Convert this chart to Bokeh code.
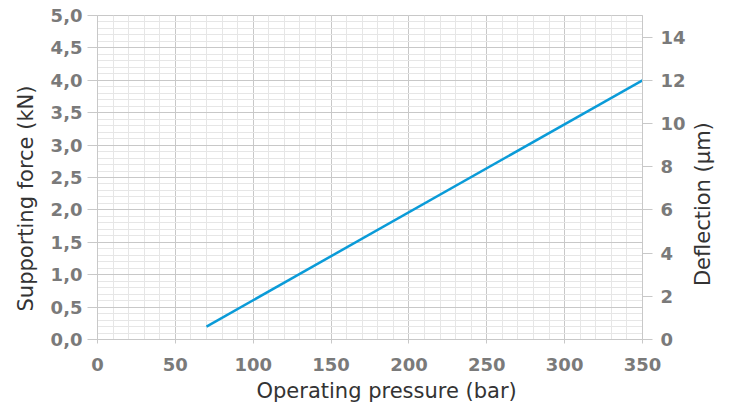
import math
from bokeh.plotting import figure
from bokeh.models import Range1d, LinearAxis, SingleIntervalTicker, CustomJSTickFormatter, Title
from bokeh.embed import file_html
from bokeh.resources import INLINE

pressure = [70, 350]
force = [0.2, 4.0]

x_ticks_interval = 50
y_ticks_interval = 0.5
right_ticks_interval = 2

x_label = "Operating pressure (bar)"
y_label = "Supporting force (kN)"
right_label = "Deflection (μm)"

TICK_FONT = "DejaVu Sans"
LABEL_FONT = "DejaVu Sans"
TICK_COLOR = "#7a7a7a"
LABEL_COLOR = "#333333"

p = figure(width=729, height=409, output_backend="svg", toolbar_location=None,
           x_range=Range1d(0, 350), y_range=Range1d(0, 5.0),
           min_border_left=97, min_border_right=87, min_border_top=15, min_border_bottom=70)
p.extra_y_ranges = {"defl": Range1d(0, 15)}

p.outline_line_color = "#c8c8c8"
p.background_fill_color = "white"
p.border_fill_color = "white"

p.xaxis.ticker = SingleIntervalTicker(interval=x_ticks_interval, num_minor_ticks=5)
p.yaxis.ticker = SingleIntervalTicker(interval=y_ticks_interval, num_minor_ticks=5)
p.yaxis.formatter = CustomJSTickFormatter(code="return tick.toFixed(1).replace('.', ',');")

p.xgrid.grid_line_color = "#c8c8c8"
p.ygrid.grid_line_color = "#c8c8c8"
p.xgrid.minor_grid_line_color = "#e6e6e6"
p.ygrid.minor_grid_line_color = "#e6e6e6"

left = p.yaxis[0]
bottom = p.xaxis[0]

# leading no-break spaces lift the bottom-anchored label up the axis
right = LinearAxis(y_range_name="defl",
                   ticker=SingleIntervalTicker(interval=right_ticks_interval),
                   axis_label="\u00a0" * 8 + right_label)
right.axis_label_orientation = math.pi / 2
right.axis_label_align = "start"
p.add_layout(right, "right")

for ax in [bottom, left, right]:
    ax.axis_line_color = "#c8c8c8"
    ax.major_tick_line_color = "#c8c8c8"
    ax.minor_tick_line_color = None
    ax.major_tick_out = 10
    ax.major_tick_in = 0
    ax.major_label_standoff = 5
    ax.major_label_text_font = TICK_FONT
    ax.major_label_text_font_style = "bold"
    ax.major_label_text_font_size = "18px"
    ax.major_label_text_color = TICK_COLOR
    ax.axis_label_text_font = LABEL_FONT
    ax.axis_label_text_font_style = "normal"
    ax.axis_label_text_font_size = "21px"
    ax.axis_label_text_color = LABEL_COLOR
    ax.axis_label_standoff = 14

right.major_label_standoff = 8
bottom.major_tick_out = 4
bottom.major_label_standoff = 14

x_title = Title(text=x_label, align="left", offset=159, standoff=6,
                text_font=LABEL_FONT, text_font_size="21px", text_font_style="normal",
                text_color=LABEL_COLOR)
p.add_layout(x_title, "below")
y_title = Title(text=y_label, align="left", offset=28, standoff=20,
                text_font=LABEL_FONT, text_font_size="21px", text_font_style="normal",
                text_color=LABEL_COLOR)
p.add_layout(y_title, "left")

p.line(pressure, force, line_color="#0a9bd8", line_width=2.5)

open("out.html", "w").write(file_html(p, INLINE))
